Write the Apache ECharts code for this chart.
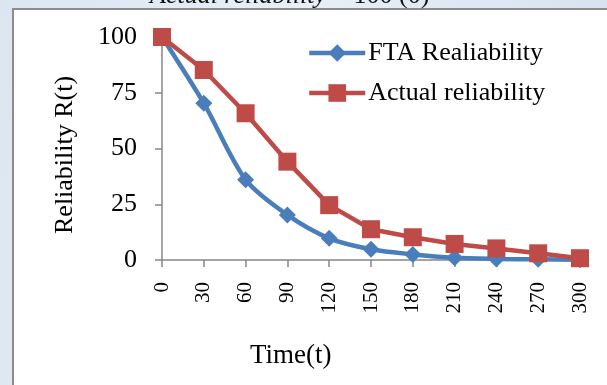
<!DOCTYPE html>
<html>
<head>
<meta charset="utf-8">
<script src="https://cdn.jsdelivr.net/npm/echarts@6/dist/echarts.min.js"></script>
<style>
  html, body { margin: 0; padding: 0; }
  body { width: 607px; height: 385px; overflow: hidden;
         background: linear-gradient(100deg, #dbe6f1 0%, #e8eff6 45%, #dfe8f2 70%, #d5e1ee 100%); }
  #chart { width: 607px; height: 385px; }
</style>
</head>
<body>
<div id="chart"></div>
<script>
// Time points (t) and reliability values in percent
const times = [0, 30, 60, 90, 120, 150, 180, 210, 240, 270, 300];
const ftaReliability = [100, 70.3, 36, 20.2, 9.7, 4.8, 2.5, 1.0, 0.5, 0.3, 0.1];
const actualReliability = [100, 85.2, 65.8, 44.1, 24.6, 13.8, 10.2, 7.2, 5.2, 3.0, 0.8];
const yTicks = [0, 25, 50, 75, 100];

const serif = '"Liberation Serif", "Times New Roman", serif';
const blue = '#4A7EBB';
const red = '#BE4B48';

const chart = echarts.init(document.getElementById('chart'), null, { renderer: 'canvas' });

chart.setOption({
  animation: false,
  backgroundColor: 'transparent',
  textStyle: { fontFamily: serif, color: '#000' },
  graphic: [
    {
      type: 'text', left: 150, top: -17, z: 0,
      style: {
        text: '{i|Actual reliability} = 100 (0)',
        font: '26px ' + serif, fill: '#111',
        rich: { i: { fontStyle: 'italic', fontFamily: serif, fontSize: 26, fill: '#111' } }
      }
    },
    {
      type: 'rect', z: -1, silent: true,
      shape: { x: 13, y: 9, width: 620, height: 400 },
      style: { fill: '#ffffff', stroke: '#8c8c8c', lineWidth: 2 }
    },
    {
      type: 'text', left: 250, top: 342,
      style: { text: 'Time(t)', font: '27px ' + serif, fill: '#000' }
    },
    {
      type: 'text', x: 52, y: 234, rotation: Math.PI / 2,
      style: { text: 'Reliability R(t)', font: '26px ' + serif, fill: '#000' }
    }
  ],
  legend: {
    orient: 'vertical',
    left: 302,
    top: 35,
    itemWidth: 56,
    itemHeight: 22,
    itemGap: 14,
    lineStyle: { width: 4.5 },
    textStyle: { fontFamily: serif, fontSize: 26, color: '#000', padding: [0, 0, 0, -2] },
    data: ['FTA Realiability', 'Actual reliability']
  },
  grid: { left: 162, top: 37, right: 27, bottom: 125 },
  xAxis: {
    type: 'value',
    min: 0, max: 300, interval: 30,
    axisLine: { lineStyle: { color: '#878787', width: 1.5 } },
    axisTick: { show: true, length: 7, lineStyle: { color: '#878787', width: 1.5 } },
    axisLabel: {
      rotate: 90, margin: 22, fontFamily: serif, fontSize: 21, color: '#000',
      formatter: function (v) { return times.indexOf(v) >= 0 ? String(v) : ''; }
    },
    splitLine: { show: false }
  },
  yAxis: {
    type: 'value',
    min: 0, max: 100, interval: 25,
    axisLine: { show: true, lineStyle: { color: '#878787', width: 1.5 } },
    axisTick: { show: true, length: 7, lineStyle: { color: '#878787', width: 1.5 } },
    axisLabel: {
      margin: 25, fontFamily: serif, fontSize: 26, color: '#000',
      formatter: function (v) { return yTicks.indexOf(v) >= 0 ? String(v) : ''; }
    },
    splitLine: { show: false }
  },
  series: [
    {
      name: 'FTA Realiability',
      type: 'line',
      data: times.map((t, i) => [t, ftaReliability[i]]),
      smooth: 0.3,
      clip: false,
      symbol: 'diamond',
      symbolSize: 17,
      lineStyle: { color: blue, width: 4.5 },
      itemStyle: { color: blue },
      z: 3
    },
    {
      name: 'Actual reliability',
      type: 'line',
      data: times.map((t, i) => [t, actualReliability[i]]),
      clip: false,
      symbol: 'rect',
      symbolSize: 18,
      lineStyle: { color: red, width: 4.5 },
      itemStyle: { color: red },
      z: 4
    }
  ]
});
</script>
</body>
</html>
